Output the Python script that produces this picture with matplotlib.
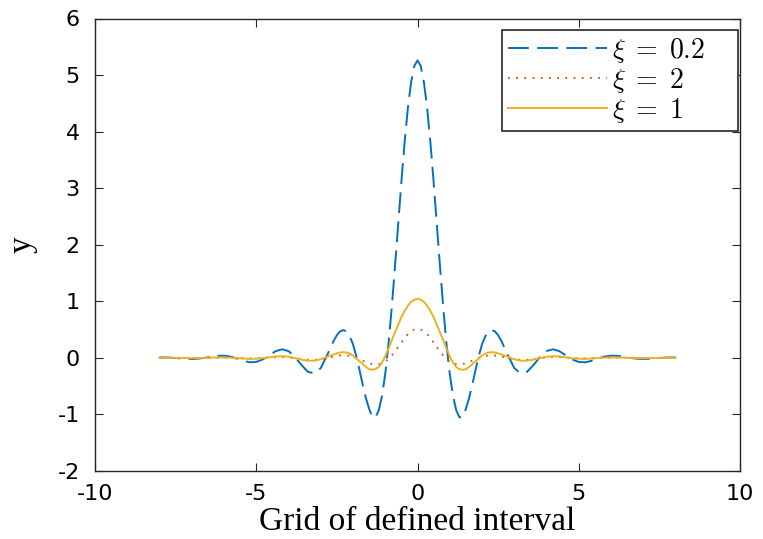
import numpy as np
import matplotlib
matplotlib.use("Agg")
import matplotlib.pyplot as plt

plt.rcParams['lines.scale_dashes'] = False
plt.rcParams['mathtext.fontset'] = 'cm'

# sample positions (x >= 0); curves are symmetric about x = 0
x_half = [0.0, 0.1, 0.2, 0.3, 0.4, 0.5, 0.6, 0.7, 0.8, 0.9, 1.0, 1.1, 1.2, 1.3, 1.4,
          1.5, 1.6, 1.7, 1.8, 1.9, 2.0, 2.1, 2.2, 2.3, 2.4, 2.5, 2.6, 2.8, 3.0, 3.2,
          3.4, 3.6, 3.8, 4.0, 4.2, 4.4, 4.6, 4.8, 5.0, 5.2, 5.4, 5.6, 5.8, 6.0, 6.2,
          6.4, 6.6, 6.8, 7.0, 7.2, 7.4, 7.6, 7.8, 8.0]

y_xi02_half = [5.26, 5.16, 4.87, 4.41, 3.81, 3.11, 2.35, 1.60, 0.88, 0.24,
               -0.28, -0.67, -0.925, -1.05, -1.05, -0.90, -0.71, -0.47, -0.21, 0.03,
               0.24, 0.38, 0.47, 0.49, 0.47, 0.40,
               0.30, 0.05, -0.18, -0.275, -0.245, -0.125, 0.018, 0.12, 0.152, 0.118,
               0.045, -0.028, -0.072, -0.078, -0.052, -0.012, 0.023, 0.039, 0.036, 0.02,
               0.0, -0.014, -0.019, -0.015, -0.007, 0.002, 0.007, 0.008]

y_xi2_half = [0.51, 0.50, 0.47, 0.42, 0.35, 0.27, 0.19, 0.11, 0.04, -0.02,
              -0.065, -0.095, -0.11, -0.115, -0.11, -0.095, -0.075, -0.05, -0.025, 0.0,
              0.02, 0.035, 0.042, 0.045, 0.042, 0.035,
              0.025, 0.0, -0.025, -0.035, -0.035, -0.022, -0.005, 0.01, 0.015, 0.013,
              0.006, -0.002, -0.008, -0.009, -0.006, -0.002, 0.002, 0.004, 0.004, 0.003,
              0.0, -0.002, -0.002, -0.002, -0.001, 0.0, 0.001, 0.001]

y_xi1_half = [1.04, 1.03, 0.99, 0.92, 0.83, 0.72, 0.58, 0.45, 0.31, 0.16,
              0.03, -0.085, -0.16, -0.20, -0.21, -0.20, -0.16, -0.11, -0.06, -0.01,
              0.04, 0.075, 0.095, 0.10, 0.095, 0.08,
              0.06, 0.02, -0.025, -0.05, -0.05, -0.03, -0.005, 0.02, 0.03, 0.025,
              0.01, -0.005, -0.015, -0.018, -0.012, -0.004, 0.004, 0.008, 0.008, 0.005,
              0.0, -0.003, -0.004, -0.003, -0.001, 0.0, 0.001, 0.002]

labels = [r'$\xi\;=\;0.2$', r'$\xi\;=\;2$', r'$\xi\;=\;1$']
x_ticks = [-10, -5, 0, 5, 10]
y_ticks = [-2, -1, 0, 1, 2, 3, 4, 5, 6]


def mirror_x(h):
    h = np.asarray(h)
    return np.concatenate([-h[:0:-1], h])


def mirror_y(h):
    h = np.asarray(h)
    return np.concatenate([h[:0:-1], h])


x = mirror_x(x_half)

fig = plt.figure(figsize=(7.63, 5.39), dpi=100)
ax = fig.add_axes([95 / 763, 1 - 471 / 539, (740 - 95) / 763, (471 - 18.5) / 539])

c_blue, c_red, c_yel = '#0072BD', '#D95319', '#EDB120'
ax.plot(x, mirror_y(y_xi02_half), color=c_blue, lw=1.4, dashes=(15, 6), label=labels[0])
ax.plot(x, mirror_y(y_xi2_half), color=c_red, lw=1.4, dashes=(1.3, 4.6), label=labels[1])
ax.plot(x, mirror_y(y_xi1_half), color=c_yel, lw=1.4, label=labels[2])

ax.set_xlim(-10, 10)
ax.set_ylim(-2, 6)
ax.set_xticks(x_ticks)
ax.set_yticks(y_ticks)
ax.set_xticklabels([str(v) for v in x_ticks])
ax.set_yticklabels([str(v) for v in y_ticks])

axc = '#262626'
for s in ax.spines.values():
    s.set_color(axc)
    s.set_linewidth(1.0)
ax.tick_params(direction='in', top=True, right=True, length=6, width=0.8,
               colors=axc, labelcolor='black', labelsize=16)
ax.tick_params(axis='y', pad=11)
ax.tick_params(axis='x', pad=9)
for lab in ax.get_xticklabels() + ax.get_yticklabels():
    lab.set_fontfamily('DejaVu Sans')

ax.set_xlabel('Grid of defined interval', fontfamily='Liberation Serif', fontsize=24, labelpad=2)
ax.set_ylabel('y', fontfamily='Liberation Serif', fontsize=24, labelpad=14)

x0 = (502 - 95) / 645
x1 = (738 - 95) / 645
ytop = (471 - 30) / 452.5
leg = ax.legend(loc='upper left', bbox_to_anchor=(x0, ytop - 0.3, x1 - x0, 0.3),
                mode='expand', borderaxespad=0, fontsize=20, handlelength=3.55,
                handletextpad=0.2, labelspacing=0.03, borderpad=0.22,
                fancybox=False, framealpha=1, edgecolor=axc)
leg.get_frame().set_linewidth(1.2)

fig.savefig('out.png', dpi=100)
